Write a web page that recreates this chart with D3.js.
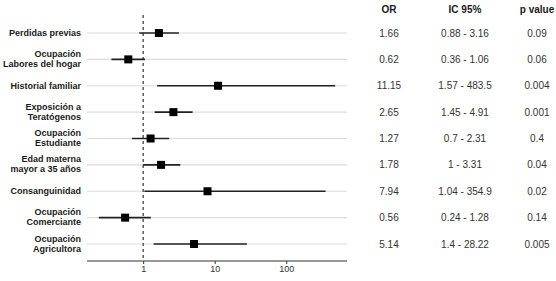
<!DOCTYPE html>
<html>
<head>
<meta charset="utf-8">
<script src="https://cdn.jsdelivr.net/npm/d3@7"></script>
<style>
  body { margin: 0; background: #fff; }
  text { font-family: "Liberation Sans", Arial, sans-serif; }
</style>
</head>
<body>
<div id="container"></div>
<script>
// data
let labels = [
  ["Perdidas previas"],
  ["Ocupación", "Labores del hogar"],
  ["Historial familiar"],
  ["Exposición a", "Teratógenos"],
  ["Ocupación", "Estudiante"],
  ["Edad materna", "mayor a 35 años"],
  ["Consanguinidad"],
  ["Ocupación", "Comerciante"],
  ["Ocupación", "Agricultora"]
];
let orValues = [1.66, 0.62, 11.15, 2.65, 1.27, 1.78, 7.94, 0.56, 5.14];
let lower = [0.88, 0.36, 1.57, 1.45, 0.7, 1, 1.04, 0.24, 1.4];
let upper = [3.16, 1.06, 483.5, 4.91, 2.31, 3.31, 354.9, 1.28, 28.22];
let pValues = ["0.09", "0.06", "0.004", "0.001", "0.4", "0.04", "0.02", "0.14", "0.005"];
let ciText = ["0.88 - 3.16", "0.36 - 1.06", "1.57 - 483.5", "1.45 - 4.91", "0.7 - 2.31",
              "1 - 3.31", "1.04 - 354.9", "0.24 - 1.28", "1.4 - 28.22"];
let orText = ["1.66", "0.62", "11.15", "2.65", "1.27", "1.78", "7.94", "0.56", "5.14"];
let xTicks = [1, 10, 100];

let w = 556;
let h = 281;

let viz = d3.select("#container")
  .append("svg")
    .attr("width", w)
    .attr("height", h)
;

// log scale with ggplot-like 5% expansion
let lo = Math.log10(d3.min(lower));
let hi = Math.log10(d3.max(upper));
let pad = (hi - lo) * 0.05;
let xScale = d3.scaleLog()
  .domain([Math.pow(10, lo - pad), Math.pow(10, hi + pad)])
  .range([87, 347]);

let yScale = d3.scalePoint()
  .domain(d3.range(labels.length))
  .range([33, 244]);

let rows = d3.range(labels.length);

// gridlines
viz.selectAll(".grid").data(rows).enter()
  .append("line")
    .attr("x1", 87).attr("x2", 347)
    .attr("y1", d => yScale(d)).attr("y2", d => yScale(d))
    .attr("stroke", "#dcdcdc")
    .attr("stroke-width", 1.1);

// reference line at 1
viz.append("line")
  .attr("x1", xScale(1)).attr("x2", xScale(1))
  .attr("y1", 15).attr("y2", 261)
  .attr("stroke", "#333")
  .attr("stroke-width", 1.2)
  .attr("stroke-dasharray", "3,3");

// CI lines
viz.selectAll(".ci").data(rows).enter()
  .append("line")
    .attr("x1", d => xScale(lower[d])).attr("x2", d => xScale(upper[d]))
    .attr("y1", d => yScale(d)).attr("y2", d => yScale(d))
    .attr("stroke", "#222")
    .attr("stroke-width", 1.6);

// points
viz.selectAll(".pt").data(rows).enter()
  .append("rect")
    .attr("x", d => xScale(orValues[d]) - 4)
    .attr("y", d => yScale(d) - 4)
    .attr("width", 8).attr("height", 8)
    .attr("fill", "#000");

// x axis
let xAxis = d3.axisBottom(xScale)
  .tickValues(xTicks)
  .tickFormat(d3.format("d"))
  .tickSize(3)
  .tickPadding(2);
let xAxisGroup = viz.append("g")
  .attr("transform", "translate(0,261)")
  .call(xAxis);
xAxisGroup.select(".domain").attr("stroke", "#333").attr("d", "M87,0H347");
xAxisGroup.selectAll(".tick line").attr("stroke", "#333");
xAxisGroup.selectAll(".tick text")
  .attr("fill", "#333")
  .style("font-size", "9px");

// row labels
let lab = viz.selectAll(".lab").data(rows).enter()
  .append("text")
    .attr("x", 81)
    .attr("y", d => yScale(d))
    .attr("text-anchor", "end")
    .style("font-size", "9px")
    .style("font-weight", "bold")
    .attr("fill", "#1a1a1a");
lab.each(function(d){
  let lines = labels[d];
  let t = d3.select(this);
  lines.forEach(function(s, i){
    let dy = lines.length == 1 ? 3 : (i == 0 ? -2.5 : 7.5);
    t.append("tspan").attr("x", 81).attr("y", yScale(d) + dy).text(s);
  });
});

// table
let cols = [
  {x: 389, head: "OR", vals: orText},
  {x: 465, head: "IC 95%", vals: ciText},
  {x: 537, head: "p value", vals: pValues}
];
cols.forEach(function(c){
  viz.append("text")
    .attr("x", c.x).attr("y", 13)
    .attr("text-anchor", "middle")
    .style("font-size", "10px")
    .style("font-weight", "bold")
    .attr("fill", "#1a1a1a")
    .text(c.head);
  viz.selectAll(null).data(rows).enter()
    .append("text")
      .attr("x", c.x)
      .attr("y", d => yScale(d) + 3.5)
      .attr("text-anchor", "middle")
      .style("font-size", "10px")
      .attr("fill", "#333")
      .text(d => c.vals[d]);
});
</script>
</body>
</html>
